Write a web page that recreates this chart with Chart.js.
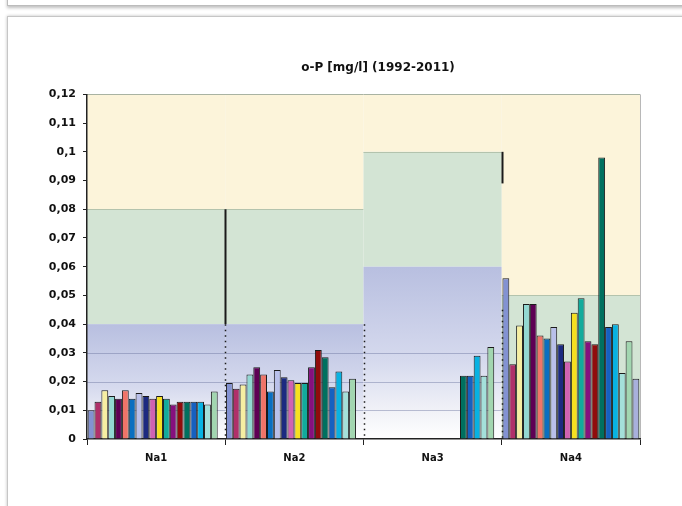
<!DOCTYPE html>
<html>
<head>
<meta charset="utf-8">
<script src="https://cdn.jsdelivr.net/npm/chart.js@4.4.1/dist/chart.umd.min.js"></script>
<style>
  html, body { margin: 0; padding: 0; background: #fff; overflow: hidden; width: 682px; height: 506px; }
  .panel-top { position: absolute; left: 7px; top: -20px; width: 720px; height: 24px; border: 1px solid #bcbcbc; box-shadow: 0 2px 3px rgba(0,0,0,0.25); background: #fff; }
  .panel { position: absolute; left: 7px; top: 16px; width: 720px; height: 600px; border: 1px solid #c6c6c6; box-shadow: 0 0 3px rgba(0,0,0,0.25); background: #fff; }
  #wrap { position: absolute; left: 10px; top: 30px; }
</style>
</head>
<body>
<div class="panel-top"></div>
<div class="panel"></div>
<div id="wrap"><canvas id="chart" width="736" height="470"></canvas></div>
<script>
  const categories = ['Na1', 'Na2', 'Na3', 'Na4'];
  const years = ['1992', '1993', '1994', '1995', '1996', '1997', '1998', '1999', '2000', '2001',
                 '2002', '2003', '2004', '2005', '2006', '2007', '2008', '2009', '2010', '2011'];

  // values per station, one per year
  const na1 = [0.010, 0.013, 0.017, 0.015, 0.014, 0.017, 0.014, 0.016, 0.015, 0.014,
               0.015, 0.014, 0.012, 0.013, 0.013, 0.013, 0.013, 0.012, 0.0165, null];
  const na2 = [0.0195, 0.0175, 0.019, 0.0225, 0.025, 0.0225, 0.0165, 0.024, 0.0215, 0.0205,
               0.0195, 0.0195, 0.025, 0.031, 0.0285, 0.018, 0.0235, 0.0165, 0.021, null];
  const na3 = [null, null, null, null, null, null, null, null, null, null,
               null, null, null, null, 0.022, 0.022, 0.029, 0.022, 0.032, null];
  const na4 = [0.056, 0.026, 0.0395, 0.047, 0.047, 0.036, 0.035, 0.039, 0.033, 0.027,
               0.044, 0.049, 0.034, 0.033, 0.098, 0.039, 0.040, 0.023, 0.034, 0.021];

  const seriesColors = ['#8392d2', '#b0306a', '#f6eea2', '#93d8d2', '#5e0054', '#f07468', '#0a6fc0', '#b9c0ea', '#1c2a80', '#d062b2',
                        '#f6e020', '#12ab9c', '#86107e', '#900c0c', '#00705f', '#1660c0', '#08b2e2', '#a4e0da', '#a2d6b0', '#a8b0dc'];

  // class limits per station (drawn as background bands)
  const yMax = 0.12;
  const blueTop = [0.04, 0.04, 0.06, 0];
  const greenTop = [0.08, 0.08, 0.10, 0.05];
  const bandLines = [0.01, 0.02, 0.03];

  const fmt = v => String(Number(Number(v).toFixed(2))).replace('.', ',');

  const zonePlugin = {
    id: 'zones',
    beforeDraw(chart) {
      const { ctx, chartArea: a, scales: { y } } = chart;
      const w = (a.right - a.left) / categories.length;
      const yTop = y.getPixelForValue(yMax);
      const y0 = y.getPixelForValue(0);
      ctx.save();
      categories.forEach((c, i) => {
        const l = a.left + i * w;
        const yG = y.getPixelForValue(greenTop[i]);
        const yB = y.getPixelForValue(blueTop[i]);
        ctx.fillStyle = '#fcf4da';
        ctx.fillRect(l, yTop, w, yG - yTop);
        ctx.fillStyle = '#d3e4d4';
        ctx.fillRect(l, yG, w, yB - yG);
        if (blueTop[i] > 0) {
          const g = ctx.createLinearGradient(0, yB, 0, y0);
          g.addColorStop(0, '#b8bfe0');
          g.addColorStop(0.55, '#d6daee');
          g.addColorStop(0.85, '#f2f3f8');
          g.addColorStop(1, '#ffffff');
          ctx.fillStyle = g;
          ctx.fillRect(l, yB, w, y0 - yB);
          ctx.strokeStyle = 'rgba(95,105,150,0.4)';
          ctx.lineWidth = 1;
          bandLines.forEach(v => {
            if (v >= blueTop[i]) return;
            const py = Math.round(y.getPixelForValue(v)) + 0.5;
            ctx.beginPath(); ctx.moveTo(l, py); ctx.lineTo(l + w, py); ctx.stroke();
          });
        }
        ctx.strokeStyle = '#b3c3ad';
        ctx.lineWidth = 1;
        const gy = Math.round(yG) + 0.5;
        ctx.beginPath(); ctx.moveTo(l, gy); ctx.lineTo(l + w, gy); ctx.stroke();
      });
      ctx.strokeStyle = '#a9b3a2';
      ctx.beginPath(); ctx.moveTo(a.left, Math.round(yTop) + 0.5); ctx.lineTo(a.right, Math.round(yTop) + 0.5); ctx.stroke();
      ctx.strokeStyle = '#b8b8b8';
      ctx.beginPath(); ctx.moveTo(Math.round(a.right) + 0.5, yTop); ctx.lineTo(Math.round(a.right) + 0.5, y0); ctx.stroke();
      ctx.restore();
    },
    afterDatasetsDraw(chart) {
      const { ctx, chartArea: a, scales: { y } } = chart;
      const w = (a.right - a.left) / categories.length;
      ctx.save();
      ctx.strokeStyle = '#1a1a1a';
      // station separators: solid part + dotted part
      const solid = [[0.08, 0.04], null, [0.10, 0.089]];
      const dotted = [[0.04, 0], [0.04, 0], [0.045, 0]];
      for (let i = 0; i < 3; i++) {
        const px = Math.round(a.left + (i + 1) * w) + 0.5;
        if (solid[i]) {
          ctx.setLineDash([]);
          ctx.lineWidth = 2;
          ctx.beginPath(); ctx.moveTo(px, y.getPixelForValue(solid[i][0])); ctx.lineTo(px, y.getPixelForValue(solid[i][1])); ctx.stroke();
        }
        ctx.setLineDash([1.5, 4]);
        ctx.lineWidth = 1.5;
        ctx.beginPath(); ctx.moveTo(px, y.getPixelForValue(dotted[i][0])); ctx.lineTo(px, y.getPixelForValue(dotted[i][1])); ctx.stroke();
      }
      ctx.restore();
    }
  };

  Chart.defaults.font.family = "'DejaVu Sans', sans-serif";

  const datasets = years.map((yr, j) => ({
    label: yr,
    data: [na1[j], na2[j], na3[j], na4[j]],
    backgroundColor: seriesColors[j],
    borderColor: '#1b1b1b',
    borderWidth: 1,
    barPercentage: 1,
    categoryPercentage: 0.99,
    yAxisID: 'y'
  }));

  new Chart(document.getElementById('chart'), {
    type: 'bar',
    data: { labels: categories, datasets },
    plugins: [zonePlugin],
    options: {
      responsive: false,
      animation: false,
      layout: { padding: 0 },
      plugins: {
        legend: { display: false },
        tooltip: { enabled: false },
        title: {
          display: true,
          text: 'o-P [mg/l] (1992-2011)',
          color: '#111',
          font: { size: 12, weight: 'bold' },
          padding: { top: 31, bottom: 19 }
        }
      },
      scales: {
        x: {
          offset: true,
          grid: { offset: true, drawOnChartArea: false, drawTicks: true, tickLength: 6, color: '#222' },
          border: { color: '#222', width: 1.5 },
          ticks: { color: '#111', font: { size: 10, weight: 'bold' }, padding: 7 },
          afterFit: s => { s.height = 61; }
        },
        y: {
          min: 0,
          max: yMax,
          ticks: { stepSize: 0.01, color: '#111', font: { size: 11, weight: 'bold' }, padding: 7, callback: v => fmt(v) },
          grid: { drawOnChartArea: false, drawTicks: true, tickLength: 4, color: '#222' },
          border: { color: '#222', width: 1.5 },
          afterFit: s => { s.width = 77; }
        },
        yRight: {
          position: 'right',
          min: 0,
          max: 1,
          grid: { display: false },
          border: { display: false },
          ticks: { display: false },
          afterFit: s => { s.width = 106; }
        }
      }
    }
  });
</script>
</body>
</html>
